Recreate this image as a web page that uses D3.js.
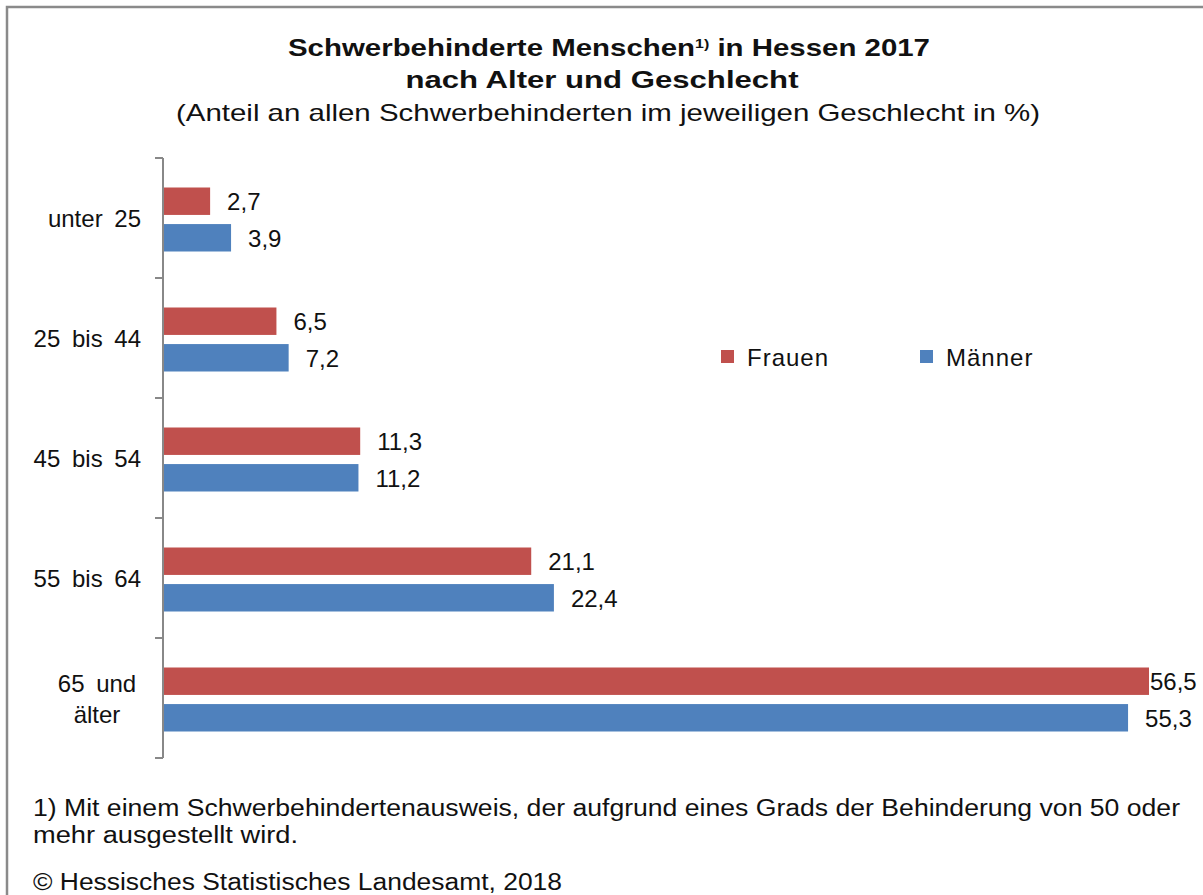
<!DOCTYPE html>
<html>
<head>
<meta charset="utf-8">
<script src="https://cdn.jsdelivr.net/npm/d3@7"></script>
<style>
  html, body { margin: 0; padding: 0; background: #fff; }
  svg { display: block; font-family: "Liberation Sans", Arial, sans-serif; }
</style>
</head>
<body>
<svg id="chart" width="1203" height="895"></svg>
<script>
// Age groups (multi-line labels split by "|")
const categories = ["unter 25", "25 bis 44", "45 bis 54", "55 bis 64", "65 und|älter"];
const series = ["Frauen", "Männer"];
const frauen = [2.7, 6.5, 11.3, 21.1, 56.5];
const maenner = [3.9, 7.2, 11.2, 22.4, 55.3];
const colors = { "Frauen": "#C0504D", "Männer": "#4F81BD" };

const W = 1203, H = 895;
const svg = d3.select("#chart");

// Frame (top and left edges)
svg.append("path")
  .attr("d", `M7,${H} L7,7 L${W},7`)
  .attr("fill", "none").attr("stroke", "#8a8a8a").attr("stroke-width", 2.5);

// Title
const title = svg.append("g").attr("fill", "#111");
const t1 = title.append("text")
  .attr("x", 609).attr("y", 56).attr("text-anchor", "middle")
  .attr("font-weight", "bold").attr("font-size", 24)
  .attr("textLength", 642).attr("lengthAdjust", "spacingAndGlyphs");
t1.append("tspan").text("Schwerbehinderte Menschen");
t1.append("tspan").attr("font-size", 13).attr("dy", -8).text("1)");
t1.append("tspan").attr("dy", 8).text(" in Hessen 2017");
title.append("text")
  .attr("x", 602).attr("y", 88).attr("text-anchor", "middle")
  .attr("font-weight", "bold").attr("font-size", 24)
  .attr("textLength", 393).attr("lengthAdjust", "spacingAndGlyphs")
  .text("nach Alter und Geschlecht");
title.append("text")
  .attr("x", 608).attr("y", 121).attr("text-anchor", "middle")
  .attr("font-size", 24)
  .attr("textLength", 864).attr("lengthAdjust", "spacingAndGlyphs")
  .text("(Anteil an allen Schwerbehinderten im jeweiligen Geschlecht in %)");

// Scales
const x = d3.scaleLinear().domain([0, 56.5]).range([163, 1149]);
const y = d3.scaleBand().domain(categories).range([158, 758]).paddingInner(0).paddingOuter(0);
const ySub = d3.scaleBand().domain(series).range([29.5, 93.5]).paddingInner(0.25);

// Category axis: line plus ticks on band boundaries
const axisG = svg.append("g");
axisG.append("line")
  .attr("x1", x(0)).attr("x2", x(0)).attr("y1", 158).attr("y2", 758)
  .attr("stroke", "#888").attr("stroke-width", 2);
const bounds = categories.map(c => y(c)).concat([y.range()[1]]);
axisG.selectAll("line.tick").data(bounds).join("line")
  .attr("class", "tick")
  .attr("x1", x(0) - 8).attr("x2", x(0))
  .attr("y1", d => d).attr("y2", d => d)
  .attr("stroke", "#888").attr("stroke-width", 2);

// Category labels
const labelRight = 141;
categories.forEach(c => {
  const lines = c.split("|");
  const cy = y(c) + y.bandwidth() / 2;
  const lineH = 31;
  const g = axisG.append("text")
    .attr("font-size", 24).attr("fill", "#111")
    .attr("word-spacing", 5);
  if (lines.length === 1) {
    g.attr("x", labelRight).attr("y", cy + 9).attr("text-anchor", "end").text(lines[0]);
  } else {
    const cx = labelRight - 44;
    lines.forEach((l, i) => {
      g.append("tspan")
        .attr("x", cx).attr("text-anchor", "middle")
        .attr("y", cy + 9 + (i - (lines.length - 1) / 2) * lineH)
        .text(l);
    });
  }
});

// Bars
const rows = categories.map((c, i) => ({ cat: c, values: [
  { key: "Frauen", v: frauen[i] },
  { key: "Männer", v: maenner[i] }
]}));
const groups = svg.selectAll("g.grp").data(rows).join("g")
  .attr("class", "grp")
  .attr("transform", d => `translate(0,${y(d.cat)})`);
groups.selectAll("rect").data(d => d.values).join("rect")
  .attr("x", x(0) + 1)
  .attr("y", d => ySub(d.key))
  .attr("width", d => x(d.v) - x(0) - 1)
  .attr("height", ySub.bandwidth())
  .attr("fill", d => colors[d.key]);

// Value labels
const fmt = v => d3.format(".1f")(v).replace(".", ",");
groups.selectAll("text.val").data(d => d.values).join("text")
  .attr("class", "val")
  .attr("x", d => Math.min(x(d.v) + 17, W - 53))
  .attr("y", d => ySub(d.key) + ySub.bandwidth() / 2 + 9)
  .attr("font-size", 24).attr("fill", "#111")
  .text(d => fmt(d.v));

// Legend
const legend = svg.append("g");
const legendX = { "Frauen": 721, "Männer": 920 };
series.forEach(s => {
  legend.append("rect")
    .attr("x", legendX[s]).attr("y", 350).attr("width", 13).attr("height", 13)
    .attr("fill", colors[s]);
  legend.append("text")
    .attr("x", legendX[s] + 26).attr("y", 366)
    .attr("font-size", 24).attr("fill", "#111")
    .attr("letter-spacing", 1)
    .text(s);
});

// Footnote and source
const foot = svg.append("g").attr("font-size", 23).attr("fill", "#111");
foot.append("text").attr("x", 33).attr("y", 816)
  .attr("textLength", 1147).attr("lengthAdjust", "spacingAndGlyphs")
  .text("1) Mit einem Schwerbehindertenausweis,  der aufgrund  eines Grads der Behinderung  von 50 oder");
foot.append("text").attr("x", 33).attr("y", 843)
  .attr("textLength", 265).attr("lengthAdjust", "spacingAndGlyphs")
  .text("mehr ausgestellt wird.");
foot.append("text").attr("x", 33).attr("y", 890)
  .attr("textLength", 529).attr("lengthAdjust", "spacingAndGlyphs")
  .text("© Hessisches Statistisches Landesamt, 2018");
</script>
</body>
</html>
